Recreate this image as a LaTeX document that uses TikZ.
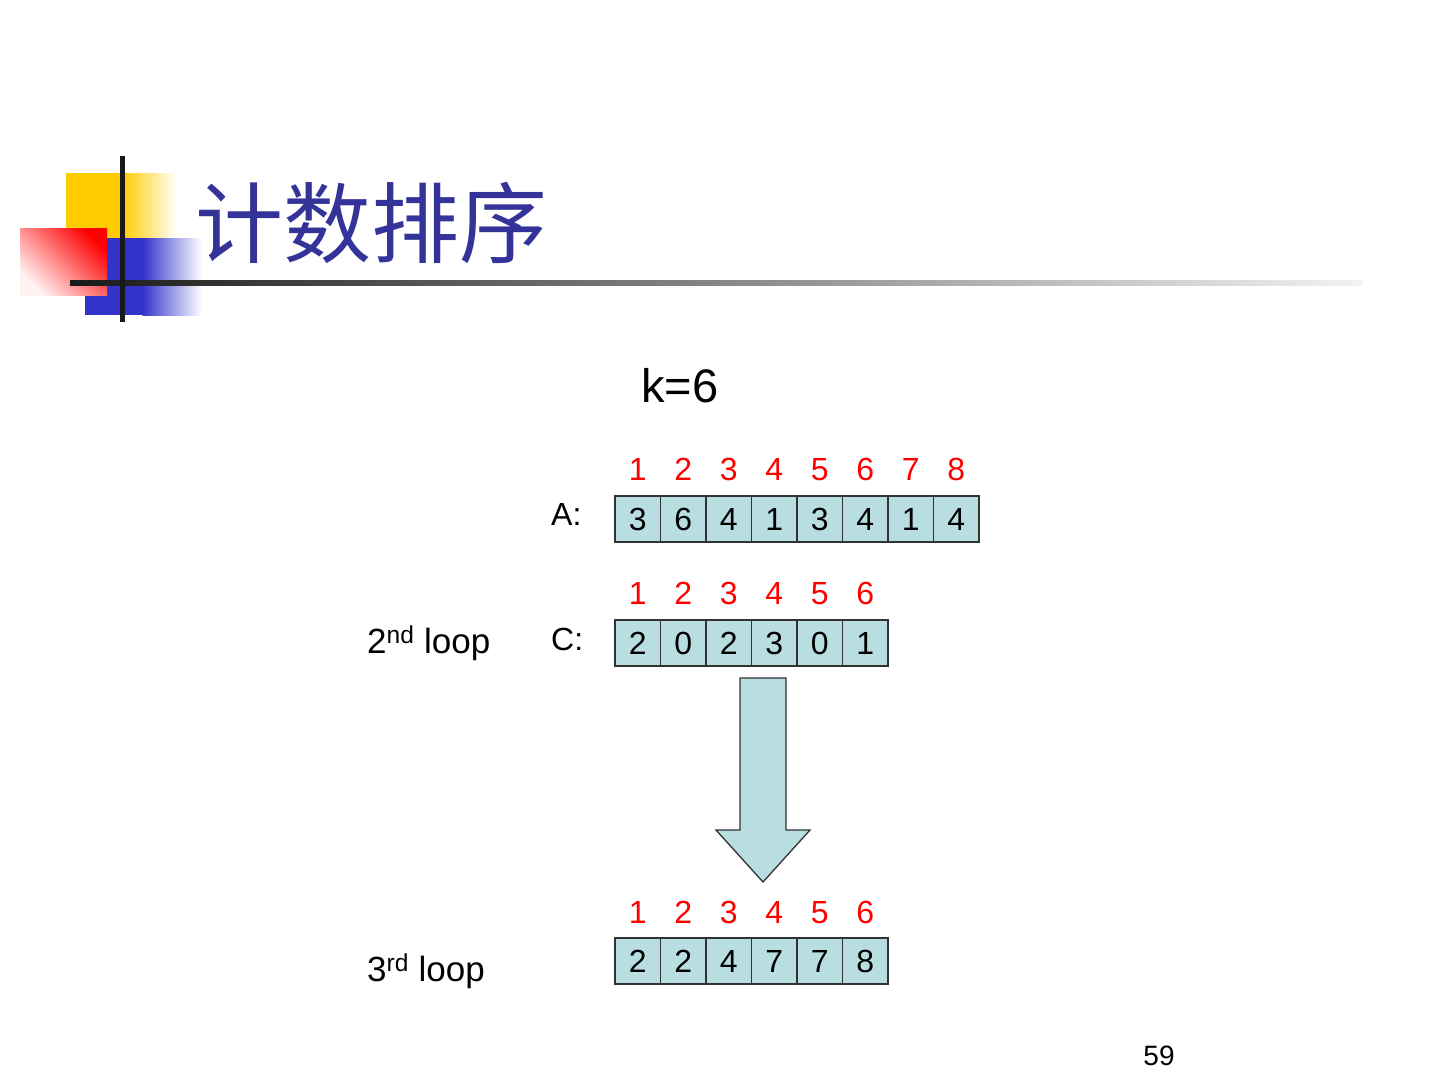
\documentclass[tikz,border=0pt]{standalone}
\usepackage{fontspec}
\setmainfont{Liberation Sans}
\newfontfamily\cjk{Noto Sans CJK SC}
\definecolor{cellc}{RGB}{185,222,226}
\definecolor{edgec}{RGB}{50,50,50}
\definecolor{titlec}{RGB}{51,51,153}
\definecolor{yel}{RGB}{255,204,0}
\definecolor{blu}{RGB}{51,51,204}
\begin{document}
\begin{tikzpicture}[x=1pt,y=-1pt,
  cell/.style={draw=edgec, line width=1.3pt, fill=cellc, minimum width=45.5pt,
    minimum height=46pt, inner sep=0pt, font=\fontsize{32}{36}\selectfont},
  idx/.style={text=red, anchor=base, inner sep=0pt, font=\fontsize{32}{36}\selectfont},
  lbl/.style={anchor=base west, inner sep=0pt, font=\fontsize{32}{36}\selectfont},
  looplbl/.style={anchor=base west, inner sep=0pt, font=\fontsize{35}{40}\selectfont},
  arrowshape/.style={draw=edgec, line width=1.3pt, fill=cellc, line join=miter}]
\fill[white] (0,0) rectangle (1440,1080);
\useasboundingbox (0,0) rectangle (1440,1080);
% logo
\fill[yel] (66,173) rectangle (122,238);
\shade[left color=yel, right color=white] (121.5,173) rectangle (177,238);
\fill[blu] (85,238) rectangle (143,315);
\shade[left color=blu, right color=white] (142.5,238) rectangle (202,315);
\shade[top color=red, bottom color=red!5, shading angle=-45] (20,228) rectangle (107,295);
\shade[left color=black!90, right color=black!5] (70,280.5) rectangle (1362,285.5);
\fill[black!90] (120.3,156) rectangle (124.7,322);
% title
\node[anchor=base west, inner sep=0pt, text=titlec, font=\cjk\fontsize{88}{96}\selectfont] (title) at (195,256) {计数排序};
% k
\node[lbl, font=\fontsize{47}{52}\selectfont] (k) at (641,402) {k=6};
% A array
\foreach \v [count=\i] in {3,6,4,1,3,4,1,4} {
  \node[cell] (a\i) at ({615+22.75+45.5*(\i-1)},519) {\v};
  \node[idx] (ai\i) at ({615+22.75+45.5*(\i-1)},480) {\i};
}
\node[lbl] (alab) at (551,525) {A:};
% C array
\foreach \v [count=\i] in {2,0,2,3,0,1} {
  \node[cell] (c\i) at ({615+22.75+45.5*(\i-1)},643) {\v};
  \node[idx] (ci\i) at ({615+22.75+45.5*(\i-1)},604) {\i};
}
\node[lbl] (clab) at (551,650) {C:};
\node[looplbl] (loop2) at (367,653) {2\textsuperscript{nd} loop};
% arrow
\draw[arrowshape] (740,678) -- (786,678) -- (786,830) -- (810,830) -- (763,882)
  -- (716,830) -- (740,830) -- cycle;
% result array
\foreach \v [count=\i] in {2,2,4,7,7,8} {
  \node[cell] (d\i) at ({615+22.75+45.5*(\i-1)},961) {\v};
  \node[idx] (di\i) at ({615+22.75+45.5*(\i-1)},923) {\i};
}
\node[looplbl] (loop3) at (367,981) {3\textsuperscript{rd} loop};
% page number
\node[anchor=base, inner sep=0pt, font=\fontsize{28}{32}\selectfont] (pg) at (1159,1065) {59};
\end{tikzpicture}
\end{document}
